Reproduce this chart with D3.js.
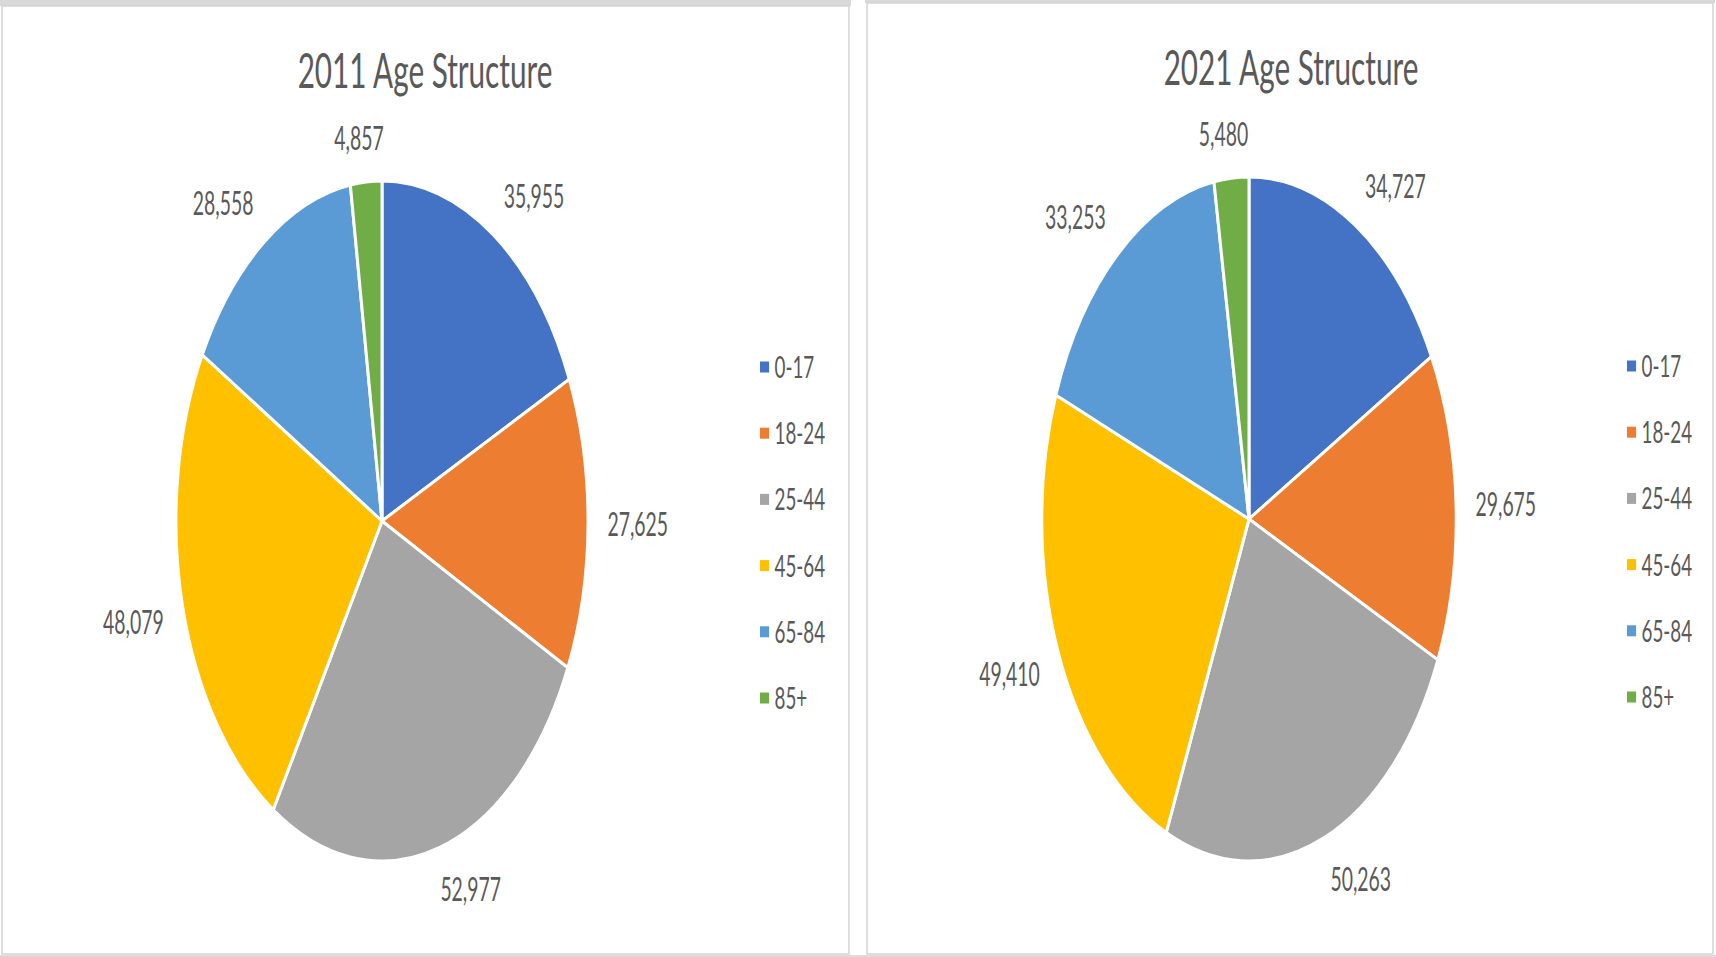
<!DOCTYPE html>
<html>
<head>
<meta charset="utf-8">
<script src="https://cdn.jsdelivr.net/npm/d3@7"></script>
<style>
  html, body { margin: 0; padding: 0; background: #ffffff; }
  svg { display: block; }
  text { font-family: Lato, "Open Sans", sans-serif; fill: #595959; }
</style>
</head>
<body>
<svg id="chart" width="1716" height="957"></svg>
<script>
const categories = ["0-17", "18-24", "25-44", "45-64", "65-84", "85+"];
const values2011 = [35955, 27625, 52977, 48079, 28558, 4857];
const values2021 = [34727, 29675, 50263, 49410, 33253, 5480];
const colors = ["#4472C4", "#ED7D31", "#A5A5A5", "#FFC000", "#5B9BD5", "#70AD47"];
const titles = ["2011 Age Structure", "2021 Age Structure"];

const svg = d3.select("#chart");
const SX = 0.606; // horizontal squeeze of the original screenshot

const panels = [
  { title: titles[0], values: values2011, x0: 2, x1: 849, top: 6, cx: 382, cy: 521, r: 340, titleX: 425, titleY: 88, legX: 760, legY: 367 },
  { title: titles[1], values: values2021, x0: 867, x1: 1713, top: 3, cx: 1249, cy: 519, r: 342, titleX: 1291, titleY: 85, legX: 1627, legY: 366 }
];

// panel frames and top grey bands
panels.forEach(p => {
  svg.append("rect").attr("x", p.x0 - 2).attr("y", 0).attr("width", p.x1 - p.x0 + 4).attr("height", p.top)
    .attr("fill", "#d9d9d9");
  svg.append("rect").attr("x", p.x0).attr("y", p.top).attr("width", p.x1 - p.x0).attr("height", 954 - p.top)
    .attr("fill", "#ffffff").attr("stroke", "#d4d4d4").attr("stroke-width", 1.5);
});
svg.append("rect").attr("x", 0).attr("y", 955).attr("width", 1716).attr("height", 2).attr("fill", "#dcdcdc");

const fmt = d3.format(",");
const legendStep = 66.2;
const clamp = v => Math.max(-1, Math.min(1, v));

panels.forEach(p => {
  // Title
  svg.append("g").attr("transform", `translate(${p.titleX},${p.titleY}) scale(${SX},1)`)
    .append("text").attr("text-anchor", "middle").attr("font-size", 49).text(p.title);

  // Pie
  const g = svg.append("g").attr("transform", `translate(${p.cx},${p.cy}) scale(${SX},1)`);
  const pie = d3.pie().sort(null).value(d => d)(p.values);
  const arc = d3.arc().innerRadius(0).outerRadius(p.r);
  g.selectAll("path.slice").data(pie).join("path")
    .attr("class", "slice")
    .attr("d", arc)
    .attr("fill", (d, i) => colors[i])
    .attr("stroke", "#ffffff")
    .attr("stroke-width", 3)
    .attr("vector-effect", "non-scaling-stroke");

  // Outside-end labels: anchor just outside the edge, box pushed away from it
  const fs = 32;
  const pad = 32;
  g.selectAll("text.lbl").data(pie).join("text")
    .attr("class", "lbl")
    .attr("font-size", fs)
    .attr("text-anchor", "middle")
    .text(d => fmt(d.value))
    .each(function(d) {
      const w = this.getComputedTextLength();
      const h = fs * 0.72;
      const a = (d.startAngle + d.endAngle) / 2;
      const s = Math.sin(a), c = Math.cos(a);
      const R = p.r + pad;
      const x = R * s + clamp(3 * s) * w / 2;
      const y = -R * c - clamp(3 * c) * h / 2;
      d3.select(this).attr("x", x).attr("y", y + h / 2);
    });

  // Legend
  const leg = svg.append("g").attr("transform", `translate(${p.legX},${p.legY}) scale(${SX},1)`);
  const items = leg.selectAll("g.item").data(categories).join("g")
    .attr("class", "item")
    .attr("transform", (d, i) => `translate(0,${i * legendStep})`);
  items.append("rect").attr("x", 0).attr("y", -5.5).attr("width", 15).attr("height", 11)
    .attr("fill", (d, i) => colors[i]);
  items.append("text").attr("x", 24).attr("y", 11).attr("font-size", 31).text(d => d);
});
</script>
</body>
</html>
